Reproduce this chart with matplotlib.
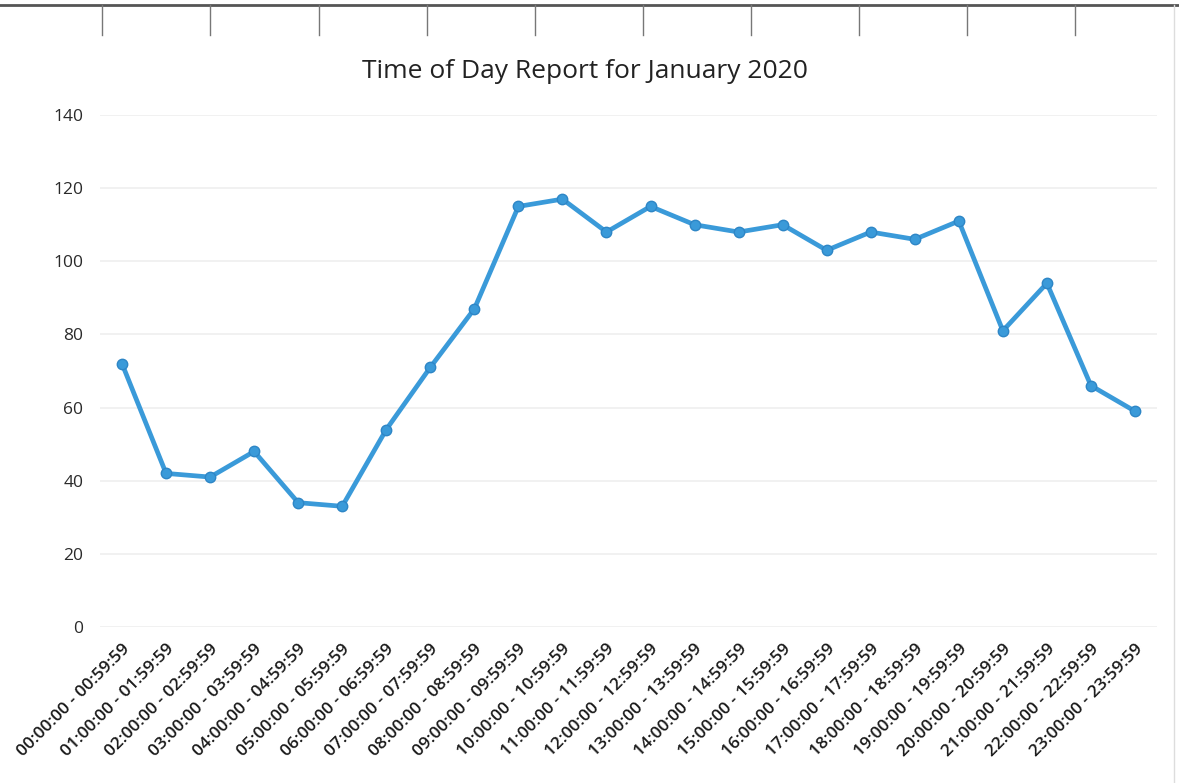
import matplotlib
matplotlib.use("Agg")
import matplotlib.pyplot as plt
from matplotlib.lines import Line2D

title = "Time of Day Report for January 2020"
hours = [f"{h:02d}:00:00 - {h:02d}:59:59" for h in range(24)]
counts = [72, 42, 41, 48, 34, 33, 54, 71, 87, 115, 117, 108,
          115, 110, 108, 110, 103, 108, 106, 111, 81, 94, 66, 59]
yticks = [0, 20, 40, 60, 80, 100, 120, 140]

W, H = 1179, 783
fig = plt.figure(figsize=(W / 100, H / 100), dpi=100)
fig.patch.set_facecolor("white")

ax = fig.add_axes([100 / W, 1 - 627 / H, 1057 / W, 512 / H])
x = list(range(len(hours)))
ax.plot(x, counts, color="#3A9AD9", lw=3.4, marker="o", ms=7.5,
        markerfacecolor="#3A9AD9", markeredgecolor="#2E86C6", mew=1,
        solid_joinstyle="round", zorder=3)
ax.set_xlim(-0.5, len(hours) - 0.5)
ax.set_ylim(0, 140)
ax.set_yticks(yticks)
ax.set_yticklabels([str(v) for v in yticks], fontsize=12.5, color="#2A2A2A",
                   family="Open Sans")
ax.set_xticks(x)
ax.set_xticklabels(hours, rotation=45, ha="right", rotation_mode="anchor",
                   fontsize=12.4, color="#1A1A1A", family="Open Sans",
                   weight="semibold")
ax.tick_params(axis="both", length=0)
ax.tick_params(axis="y", pad=12)
ax.tick_params(axis="x", pad=10)
ax.grid(axis="y", color="#EFEFEF", lw=1.2)
ax.set_axisbelow(True)
for s in ax.spines.values():
    s.set_visible(False)

fig.text(585 / W, 1 - 72 / H, title, ha="center", va="center",
         fontsize=19, color="#222222", family="Open Sans")

# scanned table border at the top of the page
fig.add_artist(Line2D([0, 1], [1 - 5 / H, 1 - 5 / H], color="#555555", lw=2))
for px in [102, 210, 319, 427, 535, 643, 751, 859, 967, 1075]:
    fig.add_artist(Line2D([px / W, px / W], [1 - 5 / H, 1 - 35 / H],
                          color="#777777", lw=1))
fig.add_artist(Line2D([1174 / W, 1174 / W], [0, 1 - 5 / H], color="#DDDDDD", lw=1))

fig.savefig("out.png", dpi=100, facecolor="white")
